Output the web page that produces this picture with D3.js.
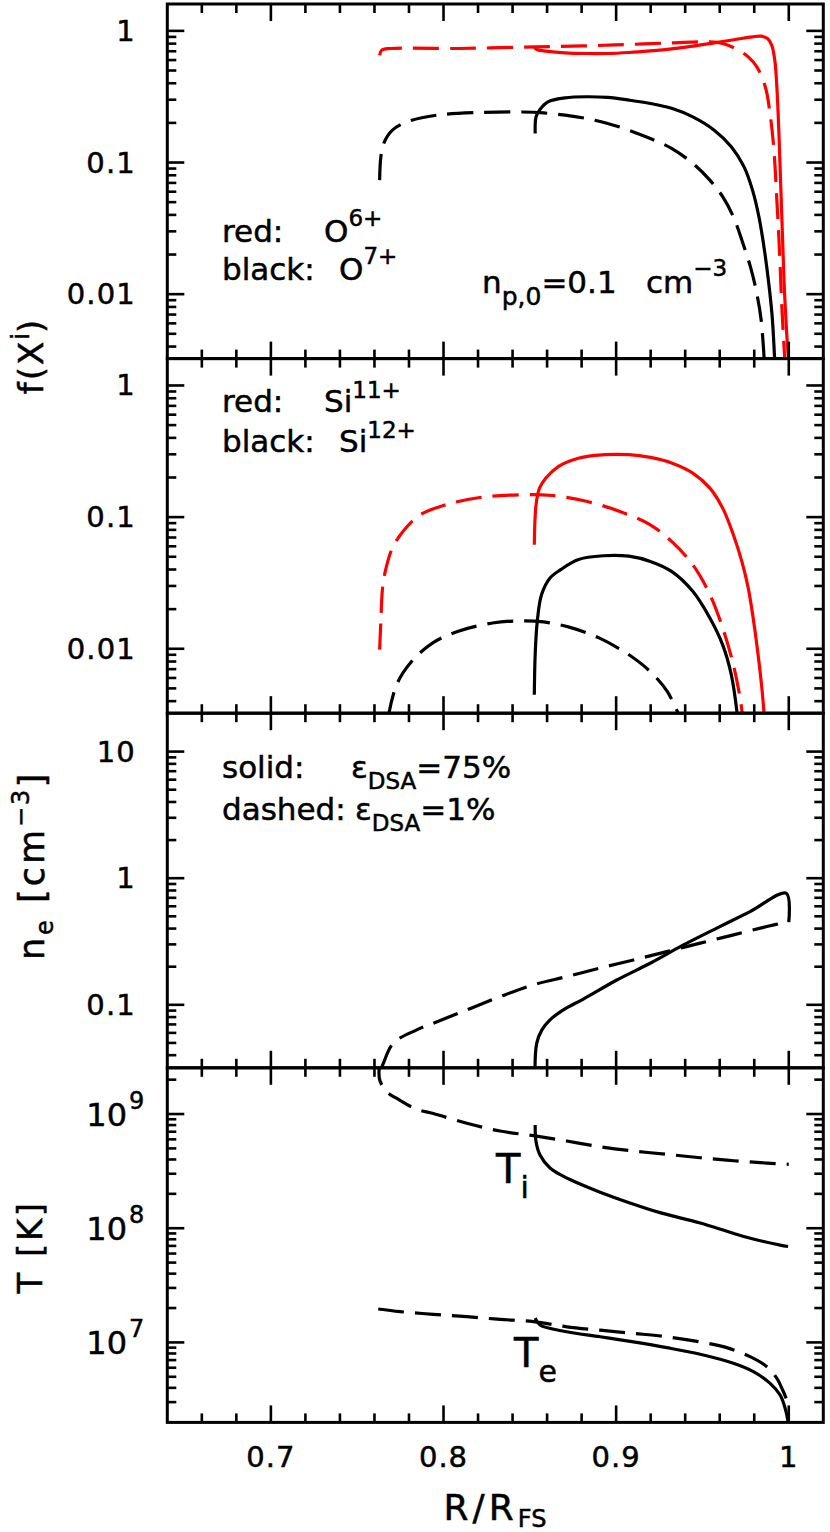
<!DOCTYPE html>
<html><head><meta charset="utf-8">
<script src="https://cdn.jsdelivr.net/npm/d3@7"></script>
<style>
body{margin:0;background:#fff}
svg{display:block}
text{font-family:"DejaVu Sans",sans-serif;fill:#000;stroke:#000;stroke-width:0.5px}
</style>
</head><body>
<svg id="c" width="830" height="1532"></svg>
<script>
// ---------------- DATA ----------------
// x axis: R / R_FS
const xMajorTicks = [0.7, 0.8, 0.9, 1.0];
const xTickLabels = ["0.7", "0.8", "0.9", "1"];

// Panel 1: ionic fractions of oxygen
const O6_eps75_R = [0.8526,0.8540,0.8580,0.8704,0.8827,0.8950,0.9074,0.9198,0.9321,0.9444,0.9568,0.9691,0.9790,0.9840,0.9877,0.9901,0.9919,0.9931,0.9943,0.9953,0.9963,0.9973,0.9988,1.0];
const O6_eps75_f = [0.745,0.722,0.705,0.681,0.673,0.673,0.685,0.705,0.730,0.765,0.811,0.860,0.901,0.912,0.875,0.779,0.599,0.376,0.166,0.0694,0.029,0.0121,0.00504,0.0030];
const O6_eps1_R  = [0.7630,0.7642,0.7691,0.8086,0.8531,0.8827,0.9074,0.9321,0.9543,0.9617,0.9691,0.9765,0.9815,0.9864,0.9894,0.9914,0.9931,0.9946,0.9958,0.9968,0.9978];
const O6_eps1_f  = [0.653,0.714,0.735,0.735,0.756,0.770,0.788,0.811,0.825,0.802,0.735,0.635,0.533,0.376,0.222,0.124,0.0518,0.0216,0.009,0.00504,0.003];
const O7_eps75_R = [0.8531,0.8536,0.8556,0.8605,0.8704,0.8827,0.8951,0.9074,0.9198,0.9321,0.9444,0.9568,0.9667,0.9741,0.9790,0.9827,0.9859,0.9884,0.9904,0.9919];
const O7_eps75_f = [0.166,0.222,0.25,0.289,0.31,0.316,0.312,0.298,0.281,0.258,0.222,0.176,0.132,0.0927,0.0617,0.0387,0.0216,0.0121,0.00673,0.003];
const O7_eps1_R  = [0.7630,0.7637,0.7654,0.7704,0.7790,0.7963,0.8210,0.8457,0.8580,0.8704,0.8827,0.8951,0.9074,0.9198,0.9321,0.9444,0.9543,0.9617,0.9679,0.9728,0.9778,0.9815,0.9840,0.9859];
const O7_eps1_f  = [0.0735,0.11,0.14,0.176,0.204,0.229,0.24,0.242,0.238,0.229,0.216,0.198,0.176,0.152,0.128,0.0985,0.0735,0.055,0.0387,0.0258,0.0161,0.0101,0.00636,0.003];

// Panel 2: ionic fractions of silicon
const Si11_eps75_R = [0.8526,0.8536,0.8556,0.8593,0.8667,0.8753,0.8877,0.9074,0.9198,0.9321,0.9444,0.9543,0.9617,0.9679,0.9728,0.9765,0.9802,0.9827,0.9844,0.9859];
const Si11_eps75_f = [0.0617,0.124,0.166,0.198,0.243,0.273,0.294,0.298,0.284,0.258,0.216,0.166,0.117,0.0735,0.0461,0.029,0.0144,0.008,0.00504,0.003];
const Si11_eps1_R  = [0.7630,0.7637,0.7647,0.7667,0.7704,0.7765,0.7864,0.8012,0.8210,0.8457,0.8630,0.8827,0.9025,0.9198,0.9321,0.9444,0.9543,0.9617,0.9679,0.9721,0.9733];
const Si11_eps1_f  = [0.00985,0.0161,0.029,0.041,0.0582,0.0779,0.104,0.124,0.141,0.148,0.146,0.132,0.11,0.0875,0.0654,0.0435,0.0258,0.0144,0.00757,0.004,0.003];
const Si12_eps75_R = [0.8526,0.8531,0.8543,0.8568,0.8617,0.8679,0.8778,0.8926,0.9074,0.9198,0.9321,0.9444,0.9543,0.9617,0.9667,0.9704];
const Si12_eps75_f = [0.00448,0.009,0.0161,0.0258,0.0345,0.0399,0.0475,0.0509,0.0505,0.0461,0.0387,0.0273,0.0171,0.0107,0.00636,0.003];
const Si12_eps1_R  = [0.7679,0.7728,0.7815,0.7938,0.8086,0.8284,0.8457,0.8580,0.8728,0.8901,0.9074,0.9198,0.9296,0.9370];
const Si12_eps1_f  = [0.003,0.00533,0.008,0.0111,0.0136,0.0157,0.0163,0.016,0.0146,0.0121,0.009,0.0067,0.00474,0.003];

// Panel 3: electron density [cm^-3]
const ne_eps75_R = [0.8530,0.8540,0.8570,0.8617,0.8694,0.8810,0.9004,0.9197,0.9390,0.9583,0.9776,0.9985,1.0];
const ne_eps75_n = [0.031,0.0498,0.0634,0.076,0.0912,0.111,0.157,0.213,0.297,0.403,0.545,0.761,0.45];
const ne_eps1_R  = [0.7638,0.7652,0.7709,0.7845,0.7941,0.8135,0.8328,0.8521,0.8714,0.8907,0.9100,0.9293,0.9487,0.9680,0.9873,1.0];
const ne_eps1_n  = [0.031,0.0346,0.0498,0.0634,0.0716,0.0912,0.116,0.144,0.167,0.195,0.226,0.263,0.307,0.357,0.415,0.455];

// Panel 4: temperatures [K]
const Ti_eps75_R = [0.8531,0.8536,0.8559,0.8617,0.8693,0.8791,0.8907,0.9063,0.9254,0.9487,0.9678,0.9817,0.9950,0.9996];
const Ti_eps75_T = [8.0e8,5.72e8,4.38e8,3.37e8,2.86e8,2.44e8,2.07e8,1.70e8,1.37e8,1.11e8,9.04e7,7.88e7,7.12e7,6.92e7];
const Ti_eps1_R  = [0.7635,0.7626,0.7632,0.7671,0.7748,0.7845,0.7941,0.8135,0.8328,0.8521,0.8714,0.8907,0.9100,0.9293,0.9487,0.9680,0.9873,1.0];
const Ti_eps1_T  = [3.0e9,2.3e9,1.95e9,1.57e9,1.32e9,1.1e9,1.01e9,8.3e8,7.1e8,6.46e8,5.8e8,5.17e8,4.74e8,4.44e8,4.14e8,3.9e8,3.72e8,3.63e8];
const Te_eps75_R = [0.8531,0.8559,0.8714,0.8907,0.9100,0.9293,0.9487,0.9679,0.9795,0.9892,0.9950,0.9979,0.9998];
const Te_eps75_T = [1.63e7,1.42e7,1.24e7,1.12e7,1.01e7,9.0e6,7.87e6,6.56e6,5.54e6,4.38e6,3.46e6,2.65e6,1.95e6];
const Te_eps1_R  = [0.7622,0.7748,0.7941,0.8135,0.8328,0.8521,0.8714,0.8907,0.9100,0.9293,0.9487,0.9641,0.9776,0.9873,0.9931,0.9969,0.9985];
const Te_eps1_T  = [1.96e7,1.86e7,1.76e7,1.68e7,1.59e7,1.52e7,1.37e7,1.28e7,1.2e7,1.12e7,1.01e7,9.0e6,7.5e6,6.13e6,4.85e6,3.7e6,3.24e6];

// tick labels of the y axes
const fTickValues  = [1, 0.1, 0.01];
const fTickLabels  = ["1", "0.1", "0.01"];
const neTickValues = [10, 1, 0.1];
const neTickLabels = ["10", "1", "0.1"];
const TTickValues  = [1e9, 1e8, 1e7];
const TTickExps    = ["9", "8", "7"];

// ---------------- LAYOUT ----------------
const RED = "#ff0000", BLACK = "#000000";
const DASH = "26,11";
const L = 167.3, Rr = 823.3, T0 = 4, PH = 354.6;
const svg = d3.select("#c");
const x = d3.scaleLinear().domain([0.64, 1.02]).range([L, Rr]);

const mk = (R, v) => R.map((r, i) => [r, v[i]]);
const panels = [
  { dom: [0.00324, 1.6], ticks: fTickValues, labels: fTickLabels, series: [
    { d: mk(O6_eps1_R, O6_eps1_f), c: RED, dash: true },
    { d: mk(O6_eps75_R, O6_eps75_f), c: RED, dash: false },
    { d: mk(O7_eps1_R, O7_eps1_f), c: BLACK, dash: true },
    { d: mk(O7_eps75_R, O7_eps75_f), c: BLACK, dash: false } ] },
  { dom: [0.00324, 1.6], ticks: fTickValues, labels: fTickLabels, series: [
    { d: mk(Si11_eps1_R, Si11_eps1_f), c: RED, dash: true },
    { d: mk(Si11_eps75_R, Si11_eps75_f), c: RED, dash: false },
    { d: mk(Si12_eps1_R, Si12_eps1_f), c: BLACK, dash: true },
    { d: mk(Si12_eps75_R, Si12_eps75_f), c: BLACK, dash: false } ] },
  { dom: [0.0318, 20.1], ticks: neTickValues, labels: neTickLabels, series: [
    { d: mk(ne_eps1_R, ne_eps1_n), c: BLACK, dash: true },
    { d: mk(ne_eps75_R, ne_eps75_n), c: BLACK, dash: false } ] },
  { dom: [1.993e6, 2.54e9], ticks: TTickValues, exps: TTickExps, series: [
    { d: mk(Ti_eps1_R, Ti_eps1_T), c: BLACK, dash: true },
    { d: mk(Ti_eps75_R, Ti_eps75_T), c: BLACK, dash: false },
    { d: mk(Te_eps1_R, Te_eps1_T), c: BLACK, dash: true },
    { d: mk(Te_eps75_R, Te_eps75_T), c: BLACK, dash: false } ] }
];

function rich(parent, px, py, segs, anchor) {
  const t = parent.append("text").attr("x", px).attr("y", py)
    .attr("text-anchor", anchor || "start");
  let prev = 0;
  segs.forEach(s => {
    const ts = t.append("tspan").attr("dy", s[2] - prev).attr("font-size", s[1]).text(s[0]);
    if (s[3] !== undefined) ts.attr("letter-spacing", s[3]);
    prev = s[2];
  });
  return t;
}

const defs = svg.append("defs");
const MAJ = 17, MIN = 9;

panels.forEach((p, i) => {
  const top = T0 + i * PH, bot = top + PH;
  const y = d3.scaleLog().domain(p.dom).range([bot, top]);
  defs.append("clipPath").attr("id", "clip" + i).append("rect")
    .attr("x", L).attr("y", top).attr("width", Rr - L).attr("height", PH);
  const g = svg.append("g").attr("clip-path", `url(#clip${i})`);
  const line = d3.line().x(d => x(d[0])).y(d => y(d[1])).curve(d3.curveCatmullRom.alpha(0.5));
  p.series.forEach(s => {
    g.append("path").attr("d", line(s.d)).attr("fill", "none")
      .attr("stroke", s.c).attr("stroke-width", 3.2)
      .attr("stroke-dasharray", s.dash ? DASH : null)
      .attr("stroke-linejoin", "round");
  });

  const ax = svg.append("g").attr("stroke", "#000").attr("stroke-width", 2.6);
  // x ticks (top and bottom of every panel)
  const xMinor = d3.range(33, 51).map(k => k * 0.02).filter(v => v > 0.645 && v < 1.015);
  xMinor.forEach(v => {
    const isMaj = xMajorTicks.some(m => Math.abs(m - v) < 1e-6);
    const len = isMaj ? MAJ : MIN;
    ax.append("line").attr("x1", x(v)).attr("x2", x(v)).attr("y1", bot).attr("y2", bot - len);
    ax.append("line").attr("x1", x(v)).attr("x2", x(v)).attr("y1", top).attr("y2", top + len);
  });
  // y ticks (log), left and right
  const e0 = Math.floor(Math.log10(p.dom[0])), e1 = Math.ceil(Math.log10(p.dom[1]));
  for (let e = e0; e <= e1; e++) {
    for (let k = 1; k <= 9; k++) {
      const v = k * Math.pow(10, e);
      const py = y(v);
      if (py < top + 1.5 || py > bot - 1.5) continue;
      const len = k === 1 ? MAJ : MIN;
      ax.append("line").attr("x1", L).attr("x2", L + len).attr("y1", py).attr("y2", py);
      ax.append("line").attr("x1", Rr).attr("x2", Rr - len).attr("y1", py).attr("y2", py);
    }
  }
  // y tick labels
  if (p.labels) {
    p.ticks.forEach((v, k) => {
      svg.append("text").attr("x", 136).attr("y", y(v) + 10).attr("text-anchor", "end")
        .attr("font-size", 29).attr("letter-spacing", 1.2).text(p.labels[k]);
    });
  } else {
    p.ticks.forEach((v, k) => {
      svg.append("text").attr("x", 127).attr("y", y(v) + 12).attr("text-anchor", "end")
        .attr("font-size", 32).text("10");
      svg.append("text").attr("x", 129).attr("y", y(v) - 5).attr("font-size", 24).text(p.exps[k]);
    });
  }
  // frame
  svg.append("rect").attr("x", L).attr("y", top).attr("width", Rr - L).attr("height", PH)
    .attr("fill", "none").attr("stroke", "#000").attr("stroke-width", 3);
});

// x tick labels
xMajorTicks.forEach((v, k) => {
  svg.append("text").attr("x", x(v)).attr("y", 1467).attr("text-anchor", "middle")
    .attr("font-size", 29).attr("letter-spacing", 1).text(xTickLabels[k]);
});
// x title
rich(svg, 495, 1520, [["R/R", 36, 0, 4], ["FS", 24, 7]], "middle");

// y titles (rotated)
function rot(cx, cy, segs) {
  const g = svg.append("g").attr("transform", `translate(${cx},${cy}) rotate(-90)`);
  rich(g, 0, 0, segs, "middle");
}
rot(43, 357, [["f(X", 34, 0, 2], ["i", 24, -14], [")", 34, 0]]);
rot(44, 867, [["n", 35, 0, 3], ["e", 24, 9, 3], [" [cm", 35, 0, 3], ["\u22123", 24, -15, 2], ["]", 35, 0]]);
rot(42, 1247, [["T [K]", 34, 0, 2.5]]);

// annotations panel 1
rich(svg, 222, 241.7, [["red:", 31, 0]]);
rich(svg, 324, 241.7, [["O", 31, 0], ["6+", 23, -16]]);
rich(svg, 222, 280, [["black:", 31, 0]]);
rich(svg, 339, 280, [["O", 31, 0], ["7+", 23, -16]]);
rich(svg, 482, 293.3, [["n", 31, 0], ["p,0", 25, 12], ["=0.1", 31, 0]]);
rich(svg, 646, 293.3, [["cm", 31, 0], ["\u22123", 23, -17]]);

// annotations panel 2
rich(svg, 222, 411.7, [["red:", 31, 0]]);
rich(svg, 324, 411.7, [["Si", 31, 0], ["11+", 23, -14]]);
rich(svg, 222, 451.7, [["black:", 31, 0]]);
rich(svg, 339, 451.7, [["Si", 31, 0], ["12+", 23, -14]]);

// annotations panel 3
rich(svg, 222, 778.3, [["solid:", 31, 0]]);
rich(svg, 351, 778.3, [["\u03b5", 31, 0], ["DSA", 23, 11], ["=75%", 31, 0]]);
rich(svg, 222, 820, [["dashed:", 31, 0]]);
rich(svg, 355, 820, [["\u03b5", 31, 0], ["DSA", 23, 11], ["=1%", 31, 0]]);

// annotations panel 4
rich(svg, 496, 1183, [["T", 40, 0], ["i", 30, 15]]);
rich(svg, 514, 1367, [["T", 40, 0], ["e", 30, 15]]);
</script>
</body></html>
